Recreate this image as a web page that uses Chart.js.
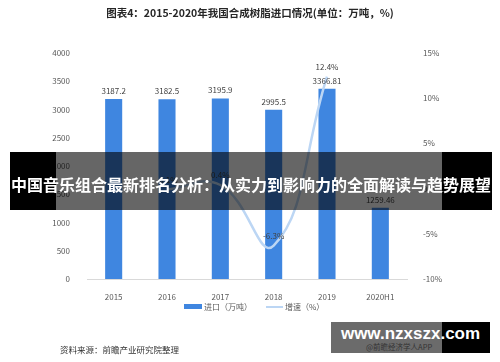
<!DOCTYPE html>
<html>
<head>
<meta charset="utf-8">
<script src="https://cdn.jsdelivr.net/npm/chart.js@4.4.1/dist/chart.umd.min.js"></script>
<style>
    body { margin: 0; background: #fff; }
    #wrap { position: relative; width: 500px; height: 362px; overflow: hidden; font-family: "Noto Sans CJK SC", sans-serif; }
    #chart { position: absolute; left: 0; top: 0; }
    .title { position: absolute; left: 0; top: 5px; width: 500px; text-align: center; font-size: 10.5px; font-weight: bold; line-height: 16px; color: #262626; }
    .legend { position: absolute; top: 300px; left: 184px; font-size: 8px; color: #595959; line-height: 12px; white-space: nowrap; }
    .legend span { display: inline-block; vertical-align: middle; }
    .sw-bar { width: 18px; height: 5px; background: #3f86e0; margin-right: 2px; }
    .sw-line { width: 17px; height: 2px; background: #bcd6f4; margin: 0 2px 0 14px; }
    .source { position: absolute; left: 60px; top: 343px; font-size: 8.5px; color: #333; line-height: 12px; }
    .band { position: absolute; left: 10px; top: 152px; width: 482px; height: 58px; }
    .band .l { position: absolute; left: 0; top: 0; width: 46px; height: 58px; background: #000; }
    .band .m { position: absolute; left: 46px; top: 0; width: 386px; height: 58px; background: rgba(0,0,0,0.6); }
    .band .r { position: absolute; left: 432px; top: 0; width: 50px; height: 58px; background: #000; }
    .band .t { position: absolute; left: 0; top: 20px; width: 482px; text-align: center; color: #fff; font-size: 16px; font-weight: bold; line-height: 24px; white-space: nowrap; }
    .wm { position: absolute; left: 331px; top: 322px; width: 159px; height: 31px; }
    .wm .g { position: absolute; left: 0; top: 0; width: 111px; height: 31px; background: #6b6b6b; }
    .wm .b { position: absolute; left: 111px; top: 0; width: 48px; height: 31px; background: #000; }
    .wm .t { position: absolute; left: 0; top: 1px; width: 159px; text-align: center; color: #fff; font: bold 17px "Liberation Sans", sans-serif; line-height: 22px; }
    .wm .s { position: absolute; left: 35px; top: 20px; color: #333; font-size: 7.5px; line-height: 10px; }
</style>
</head>
<body>
<div id="wrap">
    <canvas id="chart" width="500" height="362"></canvas>
    <div class="title">图表4：2015-2020年我国合成树脂进口情况(单位：万吨，%)</div>
    <div class="legend"><span class="sw-bar"></span><span>进口（万吨）</span><span class="sw-line"></span><span>增速（%）</span></div>
    <div class="source">资料来源：前瞻产业研究院整理</div>
    <div class="band"><div class="l"></div><div class="m"></div><div class="r"></div>
        <div class="t">中国音乐组合最新排名分析：从实力到影响力的全面解读与趋势展望</div></div>
    <div class="wm"><div class="g"></div><div class="b"></div>
        <div class="t">www.nzxszx.com</div><div class="s">@前瞻经济学人APP</div></div>
</div>
<script>
// Data
const years = ['2015', '2016', '2017', '2018', '2019', '2020H1'];
const importVolume = [3187.2, 3182.5, 3195.9, 2995.5, 3366.81, 1259.46];
const importLabels = ['3187.2', '3182.5', '3195.9', '2995.5', '3366.81', '1259.46'];
const growthRate = [null, -0.1, 0.4, -6.3, 12.4, null];
const leftTicks = [0, 4000, 500];
const rightTicks = [-10, 15, 5];

const barColor = '#3f86e0';
const lineColor = '#bcd6f4';
const textColor = '#595959';
const fontFamily = '"Noto Sans CJK SC", sans-serif';

// Draws the value labels above bars and line points
const valueLabels = {
    id: 'valueLabels',
    afterDatasetsDraw(chart) {
        const ctx = chart.ctx;
        ctx.save();
        ctx.font = '8px ' + fontFamily;
        ctx.fillStyle = '#404040';
        ctx.textAlign = 'center';
        ctx.textBaseline = 'middle';
        chart.getDatasetMeta(0).data.forEach((el, i) => {
            ctx.fillText(importLabels[i], el.x, el.y - 8);
        });
        chart.getDatasetMeta(1).data.forEach((el, i) => {
            if (growthRate[i] === null) return;
            ctx.fillText(growthRate[i].toFixed(1) + '%', el.x, el.y - 10);
        });
        ctx.restore();
    }
};

new Chart(document.getElementById('chart'), {
    data: {
        labels: years,
        datasets: [{
            type: 'bar',
            label: '进口（万吨）',
            data: importVolume,
            backgroundColor: barColor,
            barPercentage: 0.32,
            categoryPercentage: 1,
            yAxisID: 'y',
            order: 1
        }, {
            type: 'line',
            label: '增速（%）',
            data: growthRate,
            borderColor: lineColor,
            borderWidth: 2.5,
            pointRadius: 0,
            tension: 0.45,
            fill: false,
            yAxisID: 'y1',
            order: 0
        }]
    },
    options: {
        responsive: false,
        animation: false,
        devicePixelRatio: 1,
        layout: { padding: { top: 53, left: 0, right: 0, bottom: 0 } },
        plugins: { legend: { display: false }, tooltip: { enabled: false } },
        scales: {
            x: {
                grid: { display: false },
                border: { display: true, color: '#d9d9d9' },
                ticks: { color: textColor, font: { size: 8, family: fontFamily }, padding: 5 },
                afterFit: s => { s.height = 83; }
            },
            y: {
                position: 'left',
                min: leftTicks[0], max: leftTicks[1],
                grid: { display: false },
                border: { display: false },
                ticks: { stepSize: leftTicks[2], color: textColor, font: { size: 8, family: fontFamily }, padding: 9,
                    callback: v => String(v) },
                afterFit: s => { s.width = 87; }
            },
            y1: {
                position: 'right',
                min: rightTicks[0], max: rightTicks[1],
                grid: { display: false },
                border: { display: false },
                ticks: { stepSize: rightTicks[2], color: textColor, font: { size: 8, family: fontFamily }, padding: 8,
                    callback: v => v + '%' },
                afterFit: s => { s.width = 93; }
            }
        }
    },
    plugins: [valueLabels]
});
</script>
</body>
</html>
